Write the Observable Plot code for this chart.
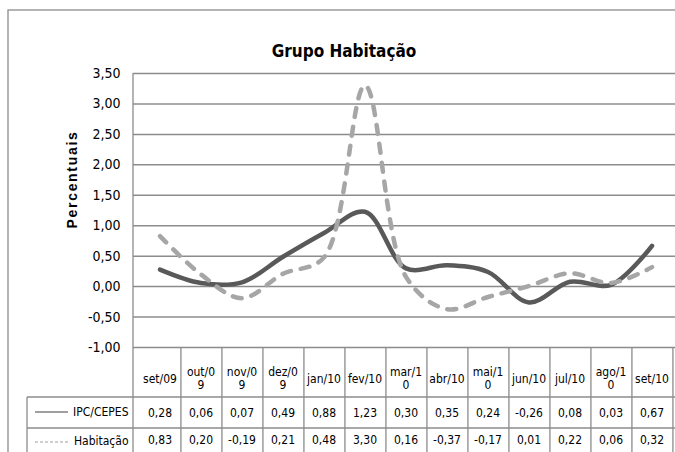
<!DOCTYPE html>
<html>
<head>
<meta charset="utf-8">
<script src="https://cdn.jsdelivr.net/npm/d3@7"></script>
<script src="https://cdn.jsdelivr.net/npm/@observablehq/plot@0.6"></script>
<style>
  html, body { margin: 0; padding: 0; background: #fff; }
  #chart svg { display: block; }
</style>
</head>
<body>
<div id="chart"></div>
<script>
const categories = ["set/09","out/09","nov/09","dez/09","jan/10","fev/10","mar/10","abr/10","mai/10","jun/10","jul/10","ago/10","set/10"];
const catLabels = ["set/09","out/0\n9","nov/0\n9","dez/0\n9","jan/10","fev/10","mar/1\n0","abr/10","mai/1\n0","jun/10","jul/10","ago/1\n0","set/10"];
const ipc = [0.28,0.06,0.07,0.49,0.88,1.23,0.30,0.35,0.24,-0.26,0.08,0.03,0.67];
const hab = [0.83,0.20,-0.19,0.21,0.48,3.30,0.16,-0.37,-0.17,0.01,0.22,0.06,0.32];
const seriesNames = ["IPC/CEPES","Habitação"];
const yTicks = [-1,-0.5,0,0.5,1,1.5,2,2.5,3,3.5];
const title = "Grupo Habitação";
const yLabel = "Percentuais";

const data = categories.map((c, i) => ({cat: c, label: catLabels[i], ipc: ipc[i], hab: hab[i]}));
const fmt = v => v.toFixed(2).replace(".", ",");

const narrow = "'DejaVu Sans Condensed', 'Liberation Sans Narrow', sans-serif";
const gridColor = "#8c8c8c";

// table / frame layout drawn with the plot's own x scale and dimensions
function tableFrame(index, scales, values, dim) {
  const g = d3.create("svg:g").attr("fill", "none").attr("stroke", gridColor).attr("stroke-width", 1.3);
  const top = dim.marginTop, bottom = dim.height - dim.marginBottom;
  const left = dim.marginLeft, right = dim.width - dim.marginRight;
  const bw = (right - left) / categories.length;
  const row1 = bottom + 50, row2 = bottom + 81, legendLeft = 27;
  g.append("rect").attr("x", 8).attr("y", 10).attr("width", dim.width + 20).attr("height", dim.height + 20);
  g.append("line").attr("x1", left).attr("x2", left).attr("y1", top).attr("y2", dim.height + 5);
  for (const c of categories) {
    const x0 = scales.x(c) + bw;
    g.append("line").attr("x1", x0).attr("x2", x0).attr("y1", bottom).attr("y2", dim.height + 5);
  }
  for (const y of [row1, row2]) {
    g.append("line").attr("x1", legendLeft).attr("x2", right).attr("y1", y).attr("y2", y);
  }
  g.append("line").attr("x1", legendLeft).attr("x2", legendLeft).attr("y1", row1).attr("y2", dim.height + 5);
  g.append("line").attr("x1", 35).attr("x2", 68).attr("y1", row1 + 15).attr("y2", row1 + 15)
    .attr("stroke", "#404040").attr("stroke-width", 1.2);
  g.append("line").attr("x1", 35).attr("x2", 68).attr("y1", row2 + 14).attr("y2", row2 + 14)
    .attr("stroke", "#a0a0a0").attr("stroke-width", 1.2).attr("stroke-dasharray", "3,2");
  return g.node();
}

const plot = Plot.plot({
  width: 675,
  height: 452,
  marginLeft: 133,
  marginRight: -3,
  marginTop: 73,
  marginBottom: 105,
  style: {fontFamily: narrow, background: "#fff", overflow: "hidden"},
  x: {type: "band", domain: categories, padding: 0, axis: null},
  y: {domain: [-1, 3.5], axis: null},
  marks: [
    Plot.gridY(yTicks, {stroke: gridColor, strokeOpacity: 1, strokeWidth: 1.5}),
    tableFrame,
    Plot.axisY(yTicks, {tickSize: 0, tickPadding: 13, tickFormat: fmt, fontSize: 14, fill: "#000", label: null}),
    Plot.text([title], {frameAnchor: "top", dx: -62, dy: -29, fontSize: 17, fontWeight: "bold", fill: "#000"}),
    Plot.text([yLabel], {frameAnchor: "left", textAnchor: "middle", dx: -61, dy: -31, rotate: -90, fontSize: 14, fontWeight: "bold",
      fill: "#000", fontFamily: "'Liberation Sans', Arial, sans-serif"}),
    Plot.lineY(data, {x: "cat", y: "ipc", curve: "catmull-rom", stroke: "#595959", strokeWidth: 4.5}),
    Plot.lineY(data, {x: "cat", y: "hab", curve: "catmull-rom", stroke: "#a6a6a6", strokeWidth: 4.5,
      strokeDasharray: "9,10", strokeLinecap: "round"}),
    Plot.text(data, {x: "cat", text: "label", frameAnchor: "bottom", dy: 31, lineAnchor: "middle", lineHeight: 1.05, fontSize: 12, fill: "#000"}),
    Plot.text(data, {x: "cat", text: d => fmt(d.ipc), frameAnchor: "bottom", dy: 66, lineAnchor: "middle", fontSize: 12, fill: "#000"}),
    Plot.text(data, {x: "cat", text: d => fmt(d.hab), frameAnchor: "bottom", dy: 93, lineAnchor: "middle", fontSize: 12, fill: "#000"}),
    Plot.text([seriesNames[0]], {frameAnchor: "bottom-left", dx: -5, dy: 65, textAnchor: "end", lineAnchor: "middle", fontSize: 12, fill: "#000"}),
    Plot.text([seriesNames[1]], {frameAnchor: "bottom-left", dx: -5, dy: 94, textAnchor: "end", lineAnchor: "middle", fontSize: 12, fill: "#000"})
  ]
});
// letter-spacing of the rotated axis title
d3.select(plot).selectAll("text").filter(function() { return this.textContent === yLabel; })
  .attr("letter-spacing", "1.7px");
document.getElementById("chart").appendChild(plot);
</script>
</body>
</html>
